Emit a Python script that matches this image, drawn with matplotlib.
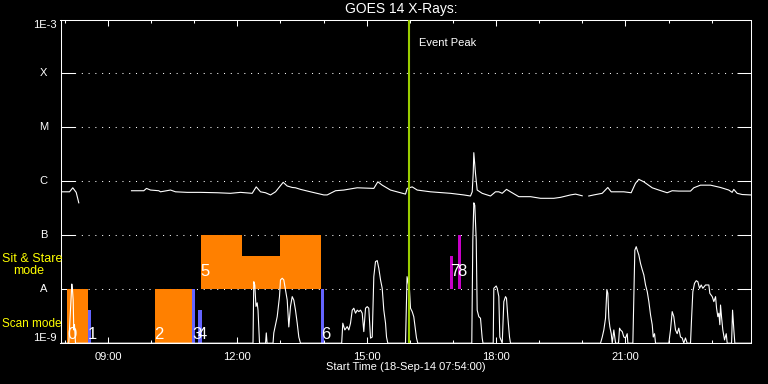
import numpy as np
import matplotlib
matplotlib.use("Agg")
import matplotlib.pyplot as plt
from matplotlib.ticker import FixedLocator, MultipleLocator, NullLocator

plt.rcParams['font.family'] = ['Liberation Sans', 'DejaVu Sans']

nan = np.nan

# GOES long channel (1-8 A), hours of 18-Sep-14, W/m^2
long_time = [7.900, 8.109, 8.185, 8.264, 8.324, nan,
             9.546, 9.832, 9.894, 9.987, 10.179, 10.219, 10.451, 10.567, 10.838, 11.146,
             11.534, 11.842, 12.074, 12.345, 12.438, 12.538, 12.654, 12.770, 12.886, 13.064,
             13.157, 13.273, 13.349, 13.465, 13.697, 14.006, 14.084, 14.277, 14.469, 14.780,
             15.165, 15.258, 15.360, 15.552, 15.900, 15.940, 16.055, 16.171, 16.480, 16.943,
             17.252, 17.407, 17.447, 17.470, 17.484, 17.523, 17.562, 17.678, 17.871, 17.987,
             18.063, 18.142, 18.242, 18.335, 18.527, 18.683, 18.799, 19.031, 19.339, 19.494,
             19.726, 19.842, 19.997, nan,
             20.150, 20.266, 20.461, 20.591, 20.670, 20.962, 21.133, 21.233, 21.310, 21.426,
             21.621, 21.774, 21.968, 22.084, 22.237, 22.509, 22.585, 22.740, 22.972, 23.204,
             23.396, 23.475, 23.512, 23.591, 23.707, 23.900]
long_flux = [6.4e-7, 6.4e-7, 7.6e-7, 6.25e-7, 4.0e-7, nan,
             6.7e-7, 6.7e-7, 7.4e-7, 6.9e-7, 6.7e-7, 6.4e-7, 6.9e-7, 6.4e-7, 6.25e-7, 6.25e-7,
             6.15e-7, 6.0e-7, 6.25e-7, 6.0e-7, 7.9e-7, 6.4e-7, 6.15e-7, 5.6e-7, 6.4e-7, 9.6e-7,
             8.2e-7, 7.7e-7, 7.6e-7, 7.1e-7, 6.4e-7, 5.6e-7, 5.6e-7, 6.7e-7, 6.9e-7, 7.6e-7,
             7.4e-7, 9.8e-7, 8.5e-7, 6.9e-7, 5.8e-7, 7.4e-7, 7.9e-7, 6.9e-7, 6.4e-7, 6.0e-7,
             5.6e-7, 5.35e-7, 6.4e-7, 1.4e-6, 3.4e-6, 1.4e-6, 6.9e-7, 6.0e-7, 5.35e-7, 6.4e-7,
             6.4e-7, 6.0e-7, 7.1e-7, 6.4e-7, 5.2e-7, 5.2e-7, 5.2e-7, 4.85e-7, 4.85e-7, 5.05e-7,
             5.6e-7, 5.8e-7, 5.4e-7, nan,
             5.35e-7, 5.6e-7, 6.0e-7, 7.7e-7, 6.4e-7, 6.4e-7, 6.15e-7, 9.2e-7, 1.09e-6, 9.8e-7,
             7.6e-7, 6.9e-7, 6.15e-7, 6.7e-7, 6.6e-7, 6.6e-7, 7.6e-7, 8.5e-7, 8.5e-7, 7.7e-7,
             6.9e-7, 6.25e-7, 7.1e-7, 6.0e-7, 5.7e-7, 5.6e-7]

# GOES short channel (0.5-4 A), sits on the 1E-9 floor most of the day
short_time = [7.900, 8.092, 8.143, 8.162, 8.178, 8.194, 8.208, 8.224, 8.248,
              12.364, 12.382, 12.405, 12.433, 12.461, 12.480, 12.515, 12.655, 12.672, 12.690,
              12.828, 12.846, 12.925, 12.978, 13.001, 13.041, 13.078, 13.117, 13.157, 13.194,
              13.233, 13.273, 13.310, 13.349, 13.389, 13.426, 13.465,
              14.420, 14.446, 14.493, 14.548, 14.586, 14.625, 14.665, 14.702, 14.741, 14.781,
              14.818, 14.857, 14.896, 14.933, 14.973, 15.012, 15.049, 15.089, 15.128, 15.165,
              15.204, 15.244, 15.281, 15.321, 15.360, 15.397, 15.437, 15.460, 15.490,
              15.900, 15.936, 15.993, 16.016, 16.055, 16.092, 16.132, 16.155, 16.185,
              17.437, 17.447, 17.461, 17.484, 17.507, 17.540, 17.562, 17.600, 17.639, 17.678, 17.697,
              17.934, 17.948, 18.003, 18.027, 18.064, 18.087, 18.143, 18.180, 18.219, 18.242,
              18.272, 18.312, 18.335,
              20.422, 20.462, 20.499, 20.538, 20.569, 20.592, 20.615, 20.638, 20.671, 20.694,
              20.731, 20.771, 20.840, 20.863, 20.886, 20.926, 20.963, 21.002, 21.041, 21.056,
              21.172, 21.195, 21.218, 21.250, 21.274, 21.311, 21.350, 21.390, 21.427, 21.466,
              21.506, 21.543, 21.582, 21.621, 21.645, 21.675, 21.698,
              22.006, 22.045, 22.084, 22.122, 22.161, 22.200, 22.237, 22.277, 22.316, 22.353,
              22.392, 22.431,
              22.509, 22.532, 22.563, 22.602, 22.642, 22.679, 22.718, 22.757, 22.795, 22.857,
              22.934, 22.957, 23.013, 23.050, 23.090, 23.113, 23.143, 23.166, 23.189, 23.205,
              23.228, 23.258, 23.298, 23.337, 23.360,
              23.461, 23.484, 23.514, 23.537, 23.900]
short_flux = [1.0e-9, 1.0e-9, 6.3e-9, 1.25e-8, 9.7e-9, 6.3e-9, 1.76e-9, 2.2e-9, 1.0e-9,
              1.0e-9, 1.38e-8, 1.2e-8, 4.8e-9, 5.6e-9, 4.1e-9, 1.0e-9, 1.0e-9, 1.55e-9, 1.0e-9,
              1.0e-9, 1.55e-9, 3.1e-9, 7.3e-9, 1.49e-8, 1.6e-8, 1.49e-8, 9.7e-9, 6.3e-9, 2.0e-9,
              4.8e-9, 7.3e-9, 6.3e-9, 4.1e-9, 2.35e-9, 1.3e-9, 1.0e-9,
              1.0e-9, 2.35e-9, 1.76e-9, 2.03e-9, 1.76e-9, 2.35e-9, 4.1e-9, 4.45e-9, 3.6e-9, 4.1e-9,
              3.85e-9, 4.1e-9, 3.6e-9, 1.64e-9, 4.45e-9, 4.76e-9, 4.45e-9, 1.24e-9, 1.3e-9, 1.71e-8,
              3.25e-8, 3.4e-8, 2.45e-8, 1.49e-8, 1.04e-8, 4.1e-9, 2.35e-9, 1.3e-9, 1.0e-9,
              1.0e-9, 1.71e-8, 9.7e-9, 4.45e-9, 3.85e-9, 3.1e-9, 1.76e-9, 1.25e-9, 1.0e-9,
              1.0e-9, 5.6e-9, 8.2e-8, 4.0e-7, 3.6e-7, 8.2e-8, 4.1e-9, 3.1e-9, 2.9e-9, 1.25e-9, 1.0e-9,
              1.0e-9, 1.04e-8, 1.15e-8, 1.04e-8, 7.3e-9, 1.3e-9, 1.0e-9, 5.9e-9, 7.3e-9, 6.8e-9,
              3.1e-9, 1.3e-9, 1.0e-9,
              1.0e-9, 1.3e-9, 1.76e-9, 2.9e-9, 9.9e-9, 8.4e-9, 2.9e-9, 2.03e-9, 1.5e-9, 1.0e-9,
              1.76e-9, 1.0e-9, 1.0e-9, 1.9e-9, 1.76e-9, 1.64e-9, 1.3e-9, 1.25e-9, 1.5e-9, 1.0e-9,
              1.0e-9, 7.8e-9, 5.3e-8, 6.15e-8, 5.3e-8, 4.3e-8, 3.0e-8, 2.3e-8, 1.84e-8, 1.2e-8,
              9.0e-9, 5.9e-9, 3.35e-9, 2.2e-9, 1.3e-9, 1.5e-9, 1.0e-9,
              1.0e-9, 1.76e-9, 3.85e-9, 3.1e-9, 1.76e-9, 1.5e-9, 1.9e-9, 1.3e-9, 1.25e-9, 1.0e-9,
              1.25e-9, 1.0e-9,
              1.0e-9, 2.7e-9, 9.0e-9, 1.29e-8, 1.44e-8, 1.38e-8, 1.04e-8, 1.2e-8, 1.04e-8, 1.2e-8,
              1.2e-8, 8.4e-9, 7.3e-9, 5.9e-9, 7.3e-9, 4.45e-9, 3.1e-9, 3.6e-9, 2.2e-9, 5.1e-9,
              3.1e-9, 1.76e-9, 1.15e-9, 1.5e-9, 1.0e-9,
              1.0e-9, 4.1e-9, 1.76e-9, 1.0e-9, 1.0e-9]

# observation blocks (raster scans / sit & stare)
seg_start = [8.06, 8.53, 10.08, 10.95, 11.08, 11.15, 12.10, 13.00, 13.95, 16.94, 17.11]
seg_end = [8.53, 8.60, 10.95, 11.01, 11.17, 12.10, 13.00, 13.95, 14.02, 17.01, 17.18]
seg_low = [1e-9, 1e-9, 1e-9, 1e-9, 1e-9, 1e-8, 1e-8, 1e-8, 1e-9, 1e-8, 1e-8]
seg_high = [1e-8, 4.1e-9, 1e-8, 1e-8, 4.1e-9, 1e-7, 4.1e-8, 1e-7, 1e-8, 4.1e-8, 1e-7]
seg_kind = ['long', 'short', 'long', 'short', 'short', 'long', 'long', 'long', 'short', 'sns', 'sns']

obs_label = ['0', '1', '2', '3', '4', '5', '6', '7', '8']
obs_time = [8.06, 8.53, 10.08, 10.95, 11.08, 11.15, 13.95, 16.94, 17.11]
obs_mode = ['scan', 'scan', 'scan', 'scan', 'scan', 'stare', 'scan', 'stare', 'stare']

level_flux = [1e-8, 1e-7, 1e-6, 1e-5, 1e-4]
level_name = ['A', 'B', 'C', 'M', 'X']

hour_ticks = [9, 12, 15, 18, 21]
hour_labels = ['09:00', '12:00', '15:00', '18:00', '21:00']

event_time = 15.97

kind_color = {'long': '#ff8000', 'short': '#6464ff', 'sns': '#c800c8'}
mode_y = {'scan': 1.45e-9, 'stare': 2.1e-8}

W, H = 768, 384
fig = plt.figure(figsize=(W / 100, H / 100), dpi=100, facecolor='black')
ax = fig.add_axes([60.5 / W, (H - 343.2) / H, 690 / W, 323.7 / H])
ax.set_facecolor('black')
ax.set_yscale('log')
ax.set_xlim(7.9, 23.9)
ax.set_ylim(1e-9, 1e-3)

for s in ax.spines.values():
    s.set_color('white')
    s.set_linewidth(0.75)

# dotted class levels
for v in level_flux:
    ax.axhline(v, color='white', lw=0.75, ls=(0, (1, 5.5)), zorder=1)

ax.yaxis.set_major_locator(FixedLocator(level_flux))
ax.yaxis.set_minor_locator(NullLocator())
ax.tick_params(axis='y', which='major', direction='in', length=10, width=0.75,
               color='white', left=True, right=True, labelleft=False)

ax.set_xticks(hour_ticks)
ax.set_xticklabels(hour_labels)
ax.xaxis.set_minor_locator(MultipleLocator(1))
ax.tick_params(axis='x', which='major', direction='in', length=4.3, width=0.75,
               colors='white', top=True, bottom=True, pad=6, labelsize=8)
ax.tick_params(axis='x', which='minor', direction='in', length=2.4, width=0.75,
               color='white', top=True, bottom=True)

# y labels by hand (IDL style)
ax.annotate('1E-3', xy=(0, 1e-3), xycoords=('axes fraction', 'data'), xytext=(-4, 0),
            textcoords='offset pixels', ha='right', va='top', color='white', fontsize=8)
ax.annotate('1E-9', xy=(0, 1e-9), xycoords=('axes fraction', 'data'), xytext=(-4, 0),
            textcoords='offset pixels', ha='right', va='bottom', color='white', fontsize=8)
for v, name in zip(level_flux, level_name):
    ax.annotate(name, xy=(0, v), xycoords=('axes fraction', 'data'), xytext=(-17, 0),
                textcoords='offset pixels', ha='center', va='center', color='white', fontsize=8)

# observation blocks
for x0, x1, lo, hi, k in zip(seg_start, seg_end, seg_low, seg_high, seg_kind):
    ax.bar(x0, hi - lo, width=x1 - x0, bottom=lo, align='edge',
           color=kind_color[k], linewidth=0, zorder=2)

ax.plot(long_time, long_flux, color='white', lw=0.8, zorder=3)
ax.plot(short_time, short_flux, color='white', lw=0.8, zorder=3)

ax.axvline(event_time, color='#9acd00', lw=1.5, zorder=4)
ax.annotate('Event Peak', xy=(event_time, 1), xycoords=('data', 'axes fraction'),
            xytext=(10, -24), textcoords='offset pixels', ha='left', va='center',
            color='white', fontsize=8)

# run numbers; neighbours touch like in the original, so keep them a bit narrow
for lab, t, m in zip(obs_label, obs_time, obs_mode):
    ax.text(t, mode_y[m], lab, color='white', fontsize=12, ha='left', va='center', zorder=5)

fig.text(401 / W, 1 - 9.5 / H, 'GOES 14 X-Rays:', color='white', fontsize=10,
         ha='center', va='center')
fig.text(405.5 / W, 1 - 367.5 / H, 'Start Time (18-Sep-14 07:54:00)', color='white',
         fontsize=8, ha='center', va='center')
fig.text(1.7 / W, 1 - 259 / H, 'Sit & Stare', color='yellow', fontsize=9, ha='left', va='center')
fig.text(12.7 / W, 1 - 271 / H, 'mode', color='yellow', fontsize=9, ha='left', va='center')
fig.text(1.7 / W, 1 - 324 / H, 'Scan mode', color='yellow', fontsize=8.5, ha='left', va='center')

fig.savefig('out.png', dpi=100, facecolor='black')
